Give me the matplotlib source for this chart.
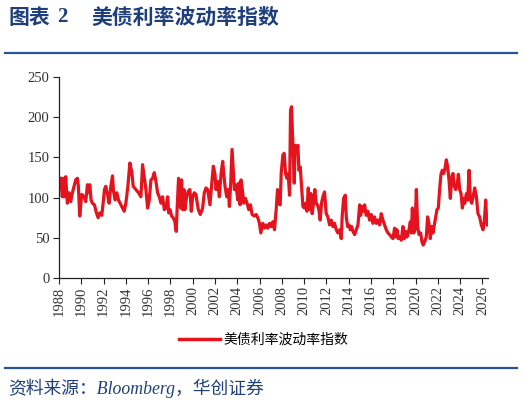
import matplotlib
matplotlib.use("Agg")
import matplotlib.pyplot as plt
from matplotlib.lines import Line2D

# ---- data ----
years = [
    1988.15, 1988.30, 1988.39, 1988.51, 1988.60, 1988.75, 1988.90, 1989.05, 1989.20, 1989.35,
    1989.50, 1989.65, 1989.74, 1989.86, 1990.04, 1990.25, 1990.40, 1990.55, 1990.70, 1990.76,
    1990.88, 1991.00, 1991.18, 1991.36, 1991.51, 1991.66, 1991.84, 1991.96, 1992.08, 1992.20,
    1992.35, 1992.50, 1992.65, 1992.80, 1992.89, 1993.04, 1993.19, 1993.34, 1993.55, 1993.70,
    1993.85, 1994.00, 1994.18, 1994.36, 1994.54, 1994.66, 1994.90, 1995.14, 1995.35, 1995.50,
    1995.65, 1995.80, 1995.95, 1996.10, 1996.25, 1996.40, 1996.55, 1996.70, 1996.85, 1997.00,
    1997.15, 1997.30, 1997.45, 1997.60, 1997.75, 1997.84, 1997.96, 1998.11, 1998.25, 1998.40,
    1998.52, 1998.61, 1998.73, 1998.82, 1998.91, 1999.00, 1999.09, 1999.21, 1999.30, 1999.45,
    1999.60, 1999.75, 1999.87, 2000.00, 2000.14, 2000.29, 2000.50, 2000.68, 2000.89, 2001.04,
    2001.19, 2001.34, 2001.55, 2001.70, 2001.85, 2002.00, 2002.09, 2002.24, 2002.39, 2002.54,
    2002.69, 2002.78, 2002.90, 2003.05, 2003.20, 2003.29, 2003.41, 2003.53, 2003.65, 2003.74,
    2003.89, 2004.04, 2004.13, 2004.25, 2004.34, 2004.49, 2004.58, 2004.73, 2004.88, 2005.03,
    2005.18, 2005.33, 2005.54, 2005.69, 2005.84, 2005.99, 2006.11,
    2006.29, 2006.44, 2006.59, 2006.74, 2006.89, 2007.04, 2007.19, 2007.34, 2007.49, 2007.61,
    2007.73, 2007.85, 2007.94, 2008.09, 2008.21, 2008.33, 2008.45, 2008.57, 2008.69, 2008.78,
    2008.87, 2008.99, 2009.11, 2009.20, 2009.35, 2009.44, 2009.53, 2009.65, 2009.77, 2009.89,
    2010.01, 2010.13, 2010.25, 2010.37, 2010.49, 2010.60, 2010.72, 2010.84, 2010.96, 2011.08,
    2011.20, 2011.32, 2011.44, 2011.56, 2011.68, 2011.83, 2011.98, 2012.13, 2012.28, 2012.43,
    2012.58, 2012.73, 2012.88, 2013.03, 2013.18, 2013.33, 2013.42, 2013.54, 2013.69, 2013.78,
    2013.90, 2014.02, 2014.14, 2014.26, 2014.38, 2014.53, 2014.68, 2014.83, 2014.98, 2015.07,
    2015.19, 2015.31, 2015.43, 2015.57, 2015.72, 2015.87, 2016.02, 2016.17, 2016.32, 2016.47,
    2016.62, 2016.77, 2016.92, 2017.07, 2017.22, 2017.37, 2017.52, 2017.67, 2017.82, 2017.97,
    2018.12, 2018.21, 2018.33, 2018.45, 2018.57, 2018.72, 2018.87, 2018.99, 2019.11, 2019.23,
    2019.41, 2019.53, 2019.62, 2019.71, 2019.83, 2019.95, 2020.07, 2020.19, 2020.31, 2020.46,
    2020.57, 2020.69, 2020.81, 2020.96, 2021.08, 2021.20, 2021.32, 2021.44, 2021.56, 2021.71,
    2021.80, 2021.92, 2022.04, 2022.16, 2022.28, 2022.40, 2022.52, 2022.64, 2022.76, 2022.88,
    2023.00, 2023.12, 2023.24, 2023.36, 2023.48, 2023.60, 2023.72, 2023.84, 2023.96, 2024.08,
    2024.20, 2024.32, 2024.41, 2024.56, 2024.68, 2024.80, 2024.92, 2025.04, 2025.16, 2025.31,
    2025.46, 2025.60, 2025.75, 2025.90, 2026.05, 2026.17, 2026.29, 2026.38, 2026.45,
]
move_index = [
    124, 101, 124, 101, 126, 93, 106, 95, 106, 114,
    122, 124, 114, 77, 104, 101, 95, 116, 106, 116,
    97, 93, 91, 81, 75, 81, 78, 93, 110, 114,
    104, 93, 114, 127, 108, 97, 106, 97, 91, 87,
    83, 93, 114, 143, 131, 114, 110, 106, 101, 141,
    126, 110, 87, 97, 122, 124, 131, 120, 106, 101,
    93, 101, 85, 87, 101, 81, 85, 77, 75, 70,
    58, 89, 124, 106, 87, 122, 85, 110, 85, 101,
    108, 110, 83, 101, 106, 104, 85, 79, 87, 106,
    112, 110, 91, 116, 139, 129, 110, 120, 101, 129,
    145, 131, 114, 101, 110, 89, 118, 160, 131, 110,
    116, 97, 118, 91, 122, 106, 93, 99, 93, 85,
    91, 79, 77, 79, 75, 68, 56,
    68, 62, 66, 62, 68, 64, 70, 60, 85, 110,
    93, 91, 130, 153, 155, 130, 124, 130, 103, 209,
    213, 165, 118, 165, 159, 165, 134, 138, 114, 89,
    87, 93, 83, 112, 85, 105, 80, 93, 110, 93,
    91, 85, 72, 93, 101, 107, 80, 76, 66, 72,
    64, 68, 60, 56, 60, 49, 78, 99, 103, 76,
    64, 66, 60, 64, 58, 54, 60, 66, 91, 78,
    89, 83, 91, 78, 83, 72, 79, 68, 76, 68,
    72, 66, 80, 72, 66, 60, 56, 54, 51, 49,
    62, 51, 60, 49, 51, 47, 64, 49, 58, 51,
    60, 70, 56, 87, 56, 60, 110, 64, 54, 56,
    45, 41, 45, 51, 76, 68, 49, 64, 56, 68,
    76, 85, 87, 110, 129, 134, 130, 136, 147, 138,
    122, 99, 126, 130, 114, 110, 114, 129, 110, 105,
    87, 99, 93, 105, 97, 134, 97, 93, 101, 112,
    101, 80, 76, 66, 60, 70, 97, 72, 66,
]
x_ticks = list(range(1988, 2027, 2))
y_ticks = [0, 50, 100, 150, 200, 250]
series_name = "美债利率波动率指数"
title_num = "2"
title_text = "美债利率波动率指数"
source_text = "资料来源：Bloomberg，华创证券"

# ---- figure ----
W, H = 524, 404
fig = plt.figure(figsize=(W / 100, H / 100), dpi=100)
blue = "#1F3F7C"
red = "#E5131D"
cjk = ["Noto Sans CJK SC", "DejaVu Sans"]
serif = ["Liberation Serif", "Noto Sans CJK SC"]

ax = fig.add_axes([59 / W, 1 - 278 / H, (488 - 59) / W, (278 - 77) / H])
ax.plot(years, move_index, color=red, lw=2.3, solid_joinstyle="round")
ax.set_xlim(1988, 2026.5)
ax.set_ylim(0, 250)
ax.set_xticks(x_ticks)
ax.set_xticklabels([str(t) for t in x_ticks], rotation=90)
ax.set_yticks(y_ticks)
for s in ["top", "right"]:
    ax.spines[s].set_visible(False)
for s in ["left", "bottom"]:
    ax.spines[s].set_color("#222222")
    ax.spines[s].set_linewidth(0.9)
ax.tick_params(axis="both", direction="out", length=4, width=0.8, color="#222222",
               labelsize=10.5, labelcolor="#333333")
ax.tick_params(axis="y", pad=3)
ax.tick_params(axis="x", pad=2)
for lab in ax.get_xticklabels() + ax.get_yticklabels():
    lab.set_family(serif)

# legend
handle = Line2D([], [], color=red, lw=2.5)
fig.legend([handle], [series_name], loc="center", bbox_to_anchor=(264 / W, 1 - 340 / H),
           frameon=False, handlelength=2.9, handletextpad=0.3,
           prop={"family": cjk, "size": 10})

# title
fig.text(8 / W, 1 - 17 / H, "图表", family=cjk, weight="bold", size=15, color=blue,
         va="center", ha="left")
fig.text(57 / W, 1 - 17 / H, title_num, family=serif, weight="bold", size=15, color=blue,
         va="center", ha="left")
fig.text(91 / W, 1 - 17 / H, title_text, family=cjk, weight="bold", size=15, color=blue,
         va="center", ha="left")

# separator lines
fig.add_artist(Line2D([5 / W, 517 / W], [1 - 53 / H, 1 - 53 / H], color="#2A5598", lw=1.6))
fig.add_artist(Line2D([5 / W, 517 / W], [1 - 368 / H, 1 - 368 / H], color="#2A5598", lw=1.6))

# source
fig.text(8 / W, 1 - 388 / H, source_text, family=serif, style="italic", size=12.8,
         color=blue, va="center", ha="left")

fig.savefig("out.png", dpi=100)
